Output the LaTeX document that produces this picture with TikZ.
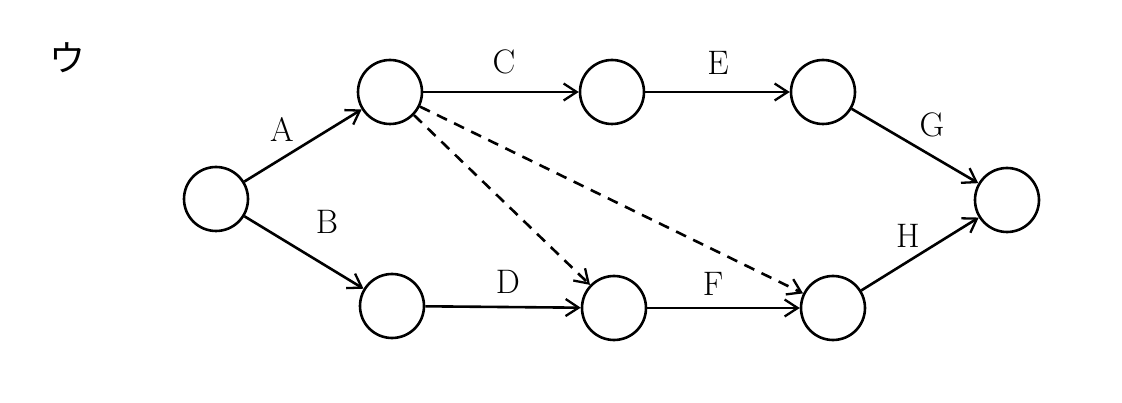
\documentclass[tikz,border=0pt]{standalone}
\usepackage{fontspec}
\newfontfamily\jpfont{Noto Sans CJK JP}
\usetikzlibrary{arrows.meta}
\begin{document}
\begin{tikzpicture}[x=1pt,y=-1pt,
  ev/.style={circle,draw,line width=2.6pt,minimum size=64pt,inner sep=0pt},
  act/.style={line width=2.6pt,-{Straight Barb[length=13pt,width=17pt,line width=2.3pt]}},
  dum/.style={act,dash pattern=on 11pt off 8pt},
  lbl/.style={font=\fontsize{34}{38}\selectfont,inner sep=0pt}]
\useasboundingbox (0,0) rectangle (1122,403);
\node[ev] (s) at (216,199) {};
\node[ev] (a) at (390,92) {};
\node[ev] (c) at (612,92) {};
\node[ev] (e) at (823,92) {};
\node[ev] (t) at (1007,200) {};
\node[ev] (b) at (392,306) {};
\node[ev] (d) at (614,308) {};
\node[ev] (f) at (833,308) {};
\draw[act] (s) -- (a);
\draw[act] (s) -- (b);
\draw[act] (a) -- (c);
\draw[act] (c) -- (e);
\draw[act] (e) -- (t);
\draw[act] (b) -- (d);
\draw[act] (d) -- (f);
\draw[act] (f) -- (t);
\draw[dum] (a) -- (d);
\draw[dum] (a) -- (f);
\node[lbl] (la) at (282,129) {A};
\node[lbl] (lb) at (327,222) {B};
\node[lbl] (lc) at (504,62) {C};
\node[lbl] (ld) at (508,282) {D};
\node[lbl] (le) at (718,63) {E};
\node[lbl] (lf) at (713,284) {F};
\node[lbl] (lg) at (932,125) {G};
\node[lbl] (lh) at (908,236) {H};
\node[inner sep=0pt,font=\jpfont\fontsize{36}{40}\selectfont] (u) at (67,58) {ウ};
\end{tikzpicture}
\end{document}
